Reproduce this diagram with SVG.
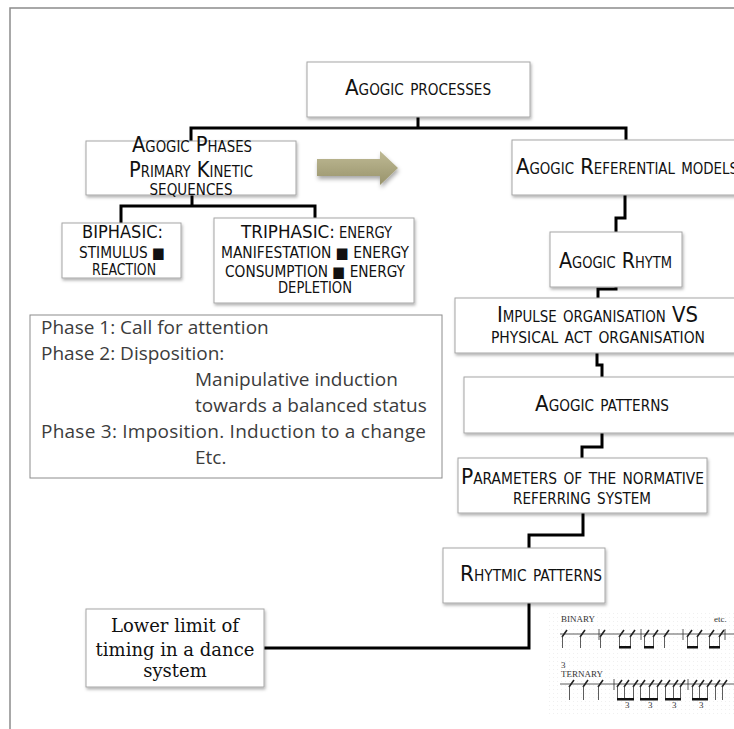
<svg xmlns="http://www.w3.org/2000/svg" width="734" height="729" viewBox="0 0 734 729">
<defs>
<style>
.box{fill:#fff;stroke:#a6a6a6;stroke-width:1;filter:url(#sh)}
.t{font-family:"Liberation Sans Narrow","DejaVu Sans Condensed","Liberation Sans",sans-serif;font-variant:small-caps;font-size:22px;fill:#111}
.c{font-family:"Liberation Sans Narrow","DejaVu Sans Condensed","Liberation Sans",sans-serif;fill:#111}
.big{font-size:18px}
.sm{font-size:15px}
.m{text-anchor:middle}
.con{fill:none;stroke:#000;stroke-width:3;stroke-linejoin:miter}
.ph{font-family:"Open Sans","Noto Sans",sans-serif;font-size:19px;fill:#3c3c3c}
.ser{font-family:"DejaVu Serif","Liberation Serif",serif;font-size:18px;fill:#111;text-anchor:middle}
.st{stroke:#333;stroke-width:0.8;fill:none}
.hd{stroke:#222;stroke-width:1.6;fill:none}
.bm{fill:#111}
.sc{font-family:"Liberation Serif",serif;font-size:9px;fill:#333}
</style>
<filter id="sh" x="-10%" y="-10%" width="130%" height="140%">
<feDropShadow dx="1" dy="2" stdDeviation="1.5" flood-color="#000" flood-opacity="0.3"/>
</filter>
<filter id="ash" x="-20%" y="-30%" width="150%" height="180%">
<feDropShadow dx="1" dy="3" stdDeviation="2" flood-color="#000" flood-opacity="0.35"/>
</filter>
<linearGradient id="ag" x1="0" y1="0" x2="0" y2="1">
<stop offset="0" stop-color="#bfba95"/>
<stop offset="1" stop-color="#98936b"/>
</linearGradient>
<pattern id="dots" width="4" height="4" patternUnits="userSpaceOnUse">
<rect x="1" y="1" width="1" height="1" fill="#000" opacity="0.06"/>
</pattern>
</defs>
<rect width="734" height="729" fill="#fff"/>
<path d="M10,729 V8 H734" fill="none" stroke="#8c8c8c" stroke-width="1.5"/>

<g id="connectors">
<path class="con" d="M418,117 V128 M191,141 V128 H626 V140"/>
<path class="con" d="M192,195 V206 M121,223 V206 H315 V218"/>
<path class="con" d="M625,195 V218 H616 V232"/>
<path class="con" d="M616,287 V289 H598 V298"/>
<path class="con" d="M597,353 V365 H602 V377"/>
<path class="con" d="M602,433 V447 H582 V458"/>
<path class="con" d="M583,513 V535 H529 V548"/>
<path class="con" d="M529,603 V648 H264"/>
</g>

<g id="agogic-processes">
<rect class="box" x="307" y="62" width="223" height="55"/>
<text class="t m" x="418" y="95" textLength="146" lengthAdjust="spacingAndGlyphs">Agogic processes</text>
</g>

<g id="agogic-phases">
<rect class="box" x="86" y="141" width="210" height="54"/>
<text class="t m" x="192" y="152" textLength="120" lengthAdjust="spacingAndGlyphs">Agogic Phases</text>
<text class="t m" x="191" y="177" textLength="124" lengthAdjust="spacingAndGlyphs">Primary Kinetic</text>
<text class="t m" x="191" y="195" textLength="83" lengthAdjust="spacingAndGlyphs">sequences</text>
</g>

<g id="biphasic">
<rect class="box" x="62" y="223" width="119" height="55"/>
<text class="c big" x="82" y="238" textLength="81" lengthAdjust="spacingAndGlyphs">BIPHASIC:</text>
<text class="c sm" x="79" y="258" textLength="86" lengthAdjust="spacingAndGlyphs">STIMULUS ■</text>
<text class="c sm" x="92" y="275" textLength="64" lengthAdjust="spacingAndGlyphs">REACTION</text>
</g>

<g id="triphasic">
<rect class="box" x="214" y="218" width="200" height="85"/>
<text class="c big" x="241" y="238" textLength="94" lengthAdjust="spacingAndGlyphs">TRIPHASIC:</text>
<text class="c sm" x="339" y="238" textLength="53" lengthAdjust="spacingAndGlyphs">ENERGY</text>
<text class="c sm" x="221" y="258" textLength="188" lengthAdjust="spacingAndGlyphs">MANIFESTATION ■ ENERGY</text>
<text class="c sm" x="225" y="277" textLength="180" lengthAdjust="spacingAndGlyphs">CONSUMPTION ■ ENERGY</text>
<text class="c sm" x="278" y="293" textLength="74" lengthAdjust="spacingAndGlyphs">DEPLETION</text>
</g>

<g id="arrow">
<path d="M317,159 H380 V151 L398,168 L380,185 V176 H317 Z" fill="url(#ag)" filter="url(#ash)"/>
</g>

<g id="referential-models">
<rect class="box" x="512" y="140" width="240" height="55"/>
<text class="t" x="516" y="174" textLength="222" lengthAdjust="spacingAndGlyphs">Agogic Referential models</text>
</g>

<g id="agogic-rhytm">
<rect class="box" x="550" y="232" width="132" height="55"/>
<text class="t" x="559" y="268" textLength="113" lengthAdjust="spacingAndGlyphs">Agogic Rhytm</text>
</g>

<g id="impulse-organisation">
<rect class="box" x="455" y="298" width="290" height="55"/>
<text class="t" x="497" y="322" textLength="201" lengthAdjust="spacingAndGlyphs">Impulse organisation VS</text>
<text class="t" x="491" y="343" textLength="214" lengthAdjust="spacingAndGlyphs">physical act organisation</text>
</g>

<g id="agogic-patterns">
<rect class="box" x="464" y="377" width="281" height="56"/>
<text class="t" x="535" y="411" textLength="134" lengthAdjust="spacingAndGlyphs">Agogic patterns</text>
</g>

<g id="parameters">
<rect class="box" x="458" y="458" width="249" height="55"/>
<text class="t" x="461" y="484" textLength="243" lengthAdjust="spacingAndGlyphs">Parameters of the normative</text>
<text class="t" x="513" y="504" textLength="138" lengthAdjust="spacingAndGlyphs">referring system</text>
</g>

<g id="rhytmic-patterns">
<rect class="box" x="443" y="548" width="162" height="55"/>
<text class="t" x="460" y="581" textLength="142" lengthAdjust="spacingAndGlyphs">Rhytmic patterns</text>
</g>

<g id="lower-limit">
<rect class="box" x="86" y="609" width="178" height="78"/>
<text class="ser" x="175" y="632">Lower limit of</text>
<text class="ser" x="175" y="656">timing in a dance</text>
<text class="ser" x="175" y="677">system</text>
</g>

<g id="phases-text">
<rect x="30" y="315" width="412" height="163" fill="#fff" stroke="#8c8c8c" stroke-width="1"/>
<text class="ph" x="41" y="334">Phase 1:  Call for attention</text>
<text class="ph" x="41" y="360">Phase 2:  Disposition:</text>
<text class="ph" x="195" y="386">Manipulative induction</text>
<text class="ph" x="195" y="412">towards a balanced status</text>
<text class="ph" x="41" y="438" textLength="385">Phase 3: Imposition. Induction to a change</text>
<text class="ph" x="195" y="464">Etc.</text>
</g>

<g id="rhythm-score">
<rect x="548" y="610" width="186" height="104" fill="url(#dots)"/>
<text class="sc" x="561" y="622">BINARY</text>
<text class="sc" x="714" y="622">etc.</text>
<path class="st" d="M560,634 H734 M599,629 V640 M641,629 V640 M683,629 V640 M725,629 V640"/>
<path class="hd" d="M562,637 L567,630 M580,637 L585,630 M600,637 L605,630 M619,637 L624,630 M630,637 L635,630 M644,637 L649,630 M653,637 L658,630 M664,637 L669,630 M687,637 L692,630 M697,637 L702,630 M709,637 L714,630 M719,637 L724,630"/>
<path class="st" d="M562.5,636 V648 M580.5,636 V648 M600.5,636 V648 M619.5,636 V648 M630.5,636 V648 M644.5,636 V648 M653.5,636 V648 M664.5,636 V648 M687.5,636 V648 M697.5,636 V648 M709.5,636 V648 M719.5,636 V648"/>
<rect class="bm" x="619" y="646" width="12" height="2.5"/>
<rect class="bm" x="644" y="646" width="10" height="2.5"/>
<rect class="bm" x="687" y="646" width="11" height="2.5"/>
<rect class="bm" x="709" y="646" width="11" height="2.5"/>
<text class="sc" x="561" y="677">TERNARY</text>
<text class="sc" x="561" y="668" font-size="5">3</text>
<path class="st" d="M560,684 H734 M614,679 V690 M688,679 V690"/>
<path class="hd" d="M569,687 L574,680 M583,687 L588,680 M598,687 L603,680 M617,687 L622,680 M624,687 L629,680 M633,687 L638,680 M640,687 L645,680 M649,687 L654,680 M657,687 L662,680 M665,687 L670,680 M673,687 L678,680 M680,687 L685,680 M692,687 L697,680 M699,687 L704,680 M707,687 L712,680 M715,687 L720,680 M722,687 L727,680"/>
<path class="st" d="M569.5,686 V700 M583.5,686 V700 M598.5,686 V700 M617.5,686 V700 M624.5,686 V700 M633.5,686 V700 M640.5,686 V700 M649.5,686 V700 M657.5,686 V700 M665.5,686 V700 M673.5,686 V700 M680.5,686 V700 M692.5,686 V700 M699.5,686 V700 M707.5,686 V700 M715.5,686 V700 M722.5,686 V700"/>
<rect class="bm" x="617" y="698" width="17" height="2.5"/>
<rect class="bm" x="640" y="698" width="18" height="2.5"/>
<rect class="bm" x="665" y="698" width="16" height="2.5"/>
<rect class="bm" x="692" y="698" width="16" height="2.5"/>
<text class="sc" x="625" y="708" font-size="5">3</text>
<text class="sc" x="648" y="708" font-size="5">3</text>
<text class="sc" x="672" y="708" font-size="5">3</text>
<text class="sc" x="699" y="708" font-size="5">3</text>
</g>
</svg>
